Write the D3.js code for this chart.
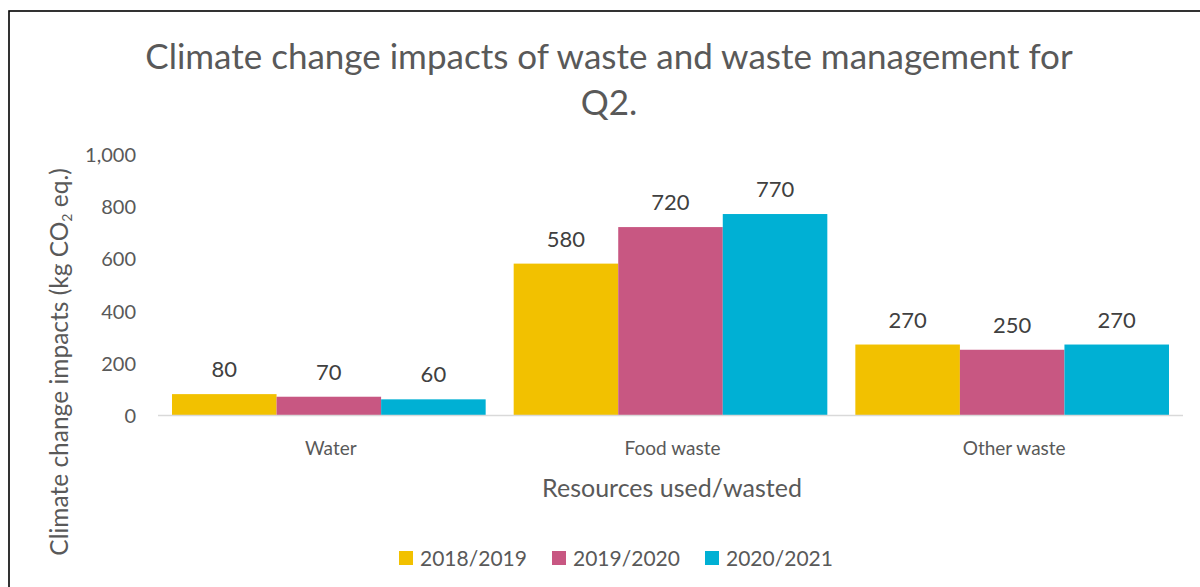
<!DOCTYPE html>
<html>
<head>
<meta charset="utf-8">
<script src="https://cdn.jsdelivr.net/npm/d3@7"></script>
<style>
  body { margin: 0; background: #fff; }
  svg text { font-family: Lato, "Open Sans", sans-serif; }
</style>
</head>
<body>
<svg id="chart"></svg>
<script>
const categories = ["Water", "Food waste", "Other waste"];
const seriesNames = ["2018/2019", "2019/2020", "2020/2021"];
const values2018 = [80, 580, 270];
const values2019 = [70, 720, 250];
const values2020 = [60, 770, 270];
const yTicks = [0, 200, 400, 600, 800, 1000];
const colors = ["#F2C100", "#C85782", "#00B0D4"];

const width = 1200;
const height = 587;
const margin = {top: 154, right: 17, bottom: 172, left: 158};

const svg = d3.select("#chart")
    .attr("width", width)
    .attr("height", height);

// frame
svg.append("rect")
    .attr("x", 9)
    .attr("y", 11)
    .attr("width", 1300)
    .attr("height", 700)
    .attr("fill", "none")
    .attr("stroke", "#000")
    .attr("stroke-width", 1.6);

const series = seriesNames.map((name, i) => ({
  name: name,
  values: [values2018, values2019, values2020][i]
}));

const xscale = d3.scaleBand()
    .domain(categories)
    .range([margin.left, width - margin.right])
    .paddingInner(0.082)
    .paddingOuter(0.041);

const xsub = d3.scaleBand()
    .domain(seriesNames)
    .range([0, xscale.bandwidth()]);

const yscale = d3.scaleLinear()
    .domain([0, 1000])
    .range([415, margin.top]);

// title
const title = svg.append("text")
    .attr("text-anchor", "middle")
    .attr("fill", "#595959")
    .attr("font-size", "35px");
title.append("tspan").attr("x", 609).attr("y", 69)
    .text("Climate change impacts of waste and waste management for");
title.append("tspan").attr("x", 609).attr("y", 115)
    .text("Q2.");

// y axis (labels only)
const yaxis = d3.axisLeft(yscale)
    .tickValues(yTicks)
    .tickFormat(d3.format(","))
    .tickSize(0)
    .tickPadding(0);

svg.append("g")
    .attr("transform", `translate(136, 1)`)
    .call(yaxis)
    .call(g => g.select(".domain").remove())
    .selectAll("text")
    .attr("fill", "#595959")
    .attr("font-size", "20px")
    .attr("font-family", "Lato, sans-serif");

// bars
const groups = svg.selectAll("g.cat")
    .data(categories)
    .enter().append("g")
    .attr("class", "cat")
    .attr("transform", d => `translate(${xscale(d)}, 0)`);

groups.selectAll("rect")
    .data((c, ci) => series.map((s, si) => ({name: s.name, value: s.values[ci], color: colors[si]})))
    .enter().append("rect")
    .attr("x", d => xsub(d.name))
    .attr("width", xsub.bandwidth())
    .attr("y", d => yscale(d.value))
    .attr("height", d => yscale(0) - yscale(d.value))
    .attr("fill", d => d.color);

groups.selectAll("text.val")
    .data((c, ci) => series.map(s => ({name: s.name, value: s.values[ci]})))
    .enter().append("text")
    .attr("class", "val")
    .attr("x", d => xsub(d.name) + xsub.bandwidth() / 2)
    .attr("y", d => yscale(d.value) - 17)
    .attr("text-anchor", "middle")
    .attr("fill", "#404040")
    .attr("font-size", "22px")
    .text(d => d.value);

// baseline
svg.append("line")
    .attr("x1", margin.left)
    .attr("x2", width - margin.right)
    .attr("y1", yscale(0) + 0.5)
    .attr("y2", yscale(0) + 0.5)
    .attr("stroke", "#D9D9D9")
    .attr("stroke-width", 1.5);

// x axis labels
const xaxis = d3.axisBottom(xscale).tickSize(0).tickPadding(0);
svg.append("g")
    .attr("transform", `translate(2, ${yscale(0) + 26})`)
    .call(xaxis)
    .call(g => g.select(".domain").remove())
    .selectAll("text")
    .attr("fill", "#595959")
    .attr("font-size", "19px")
    .attr("font-family", "Lato, sans-serif");

// axis titles
svg.append("text")
    .attr("x", 672)
    .attr("y", 497)
    .attr("text-anchor", "middle")
    .attr("fill", "#595959")
    .attr("font-size", "25px")
    .text("Resources used/wasted");

const ytitle = svg.append("text")
    .attr("transform", "translate(68, 362) rotate(-90)")
    .attr("text-anchor", "middle")
    .attr("fill", "#595959")
    .attr("font-size", "24.5px");
ytitle.append("tspan").text("Climate change impacts (kg CO");
ytitle.append("tspan").attr("font-size", "14px").attr("dy", 4).text("2");
ytitle.append("tspan").attr("dy", -4).text(" eq.)");

// legend
const legend = svg.append("g");
const legendX = [399, 552, 705];
seriesNames.forEach((name, i) => {
  const lg = legend.append("g").attr("transform", `translate(${legendX[i]}, 551)`);
  lg.append("rect")
      .attr("width", 14)
      .attr("height", 14)
      .attr("fill", colors[i]);
  lg.append("text")
      .attr("x", 21)
      .attr("y", 15)
      .attr("fill", "#595959")
      .attr("font-size", "21px")
      .text(name);
});
</script>
</body>
</html>
